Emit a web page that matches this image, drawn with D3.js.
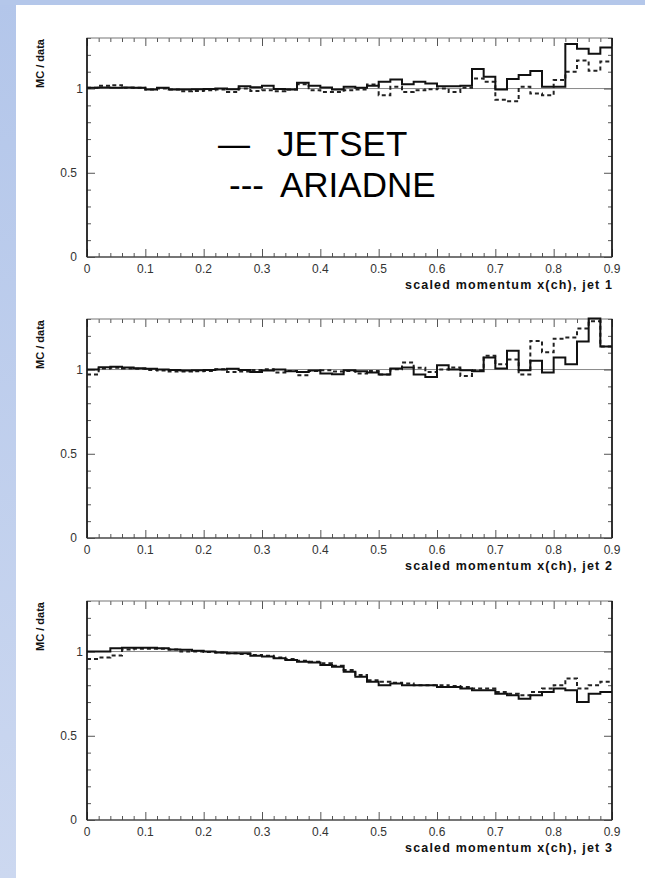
<!DOCTYPE html>
<html><head><meta charset="utf-8">
<script src="https://cdn.jsdelivr.net/npm/d3@7"></script>
<style>html,body{margin:0;padding:0;background:#fff;}svg{display:block;}</style>
</head><body>
<script>
// ---- data ----
const binEdges = d3.range(0, 45).map(i => +(i * 0.02).toFixed(2)); // left edges, 45 bins of 0.02
const xMax = 0.9;
const xMajorTicks = [0, 0.1, 0.2, 0.3, 0.4, 0.5, 0.6, 0.7, 0.8, 0.9];
const xTickLabels = ["0", "0.1", "0.2", "0.3", "0.4", "0.5", "0.6", "0.7", "0.8", "0.9"];
const yMajorTicks = [0, 0.5, 1];
const yTickLabels = ["0", "0.5", "1"];
const panelTitles = ["scaled momentum x(ch), jet 1", "scaled momentum x(ch), jet 2", "scaled momentum x(ch), jet 3"];
const yTitle = "MC / data";
const legendMarks = ["\u2014", "---"];
const legendLabels = ["JETSET", "ARIADNE"];

const jet1Jetset = [1.004,1.006,1.004,1.006,1.004,0.994,1.004,0.994,0.994,0.996,0.998,1.0,0.996,1.014,1.008,1.016,0.998,0.994,1.034,1.016,1.006,0.994,1.01,
  1.004,1.016,1.04,1.054,1.026,1.04,1.03,1.014,1.014,1.016,1.116,1.07,0.994,1.056,1.08,1.104,1.01,1.01,1.265,1.236,1.206,1.244];
const jet1Ariadne = [1.004,1.016,1.02,1.004,1.004,0.994,1.0,0.994,0.984,0.986,0.99,0.994,0.98,1.0,0.986,0.99,0.984,0.994,1.026,0.99,0.98,0.98,0.99,
  0.994,1.024,0.96,1.01,0.98,0.99,0.996,1.0,0.98,1.004,1.06,1.04,0.934,0.924,1.01,0.97,0.96,1.05,1.1,1.166,1.106,1.16];
const jet2Jetset = [1.0,1.014,1.016,1.012,1.008,1.004,1.0,0.998,0.994,0.996,0.998,1.0,1.004,0.998,0.986,0.994,1.0,0.99,0.986,0.994,0.976,0.972,0.996,
  0.99,0.982,0.97,1.006,1.012,0.97,0.956,1.026,1.0,0.996,0.99,1.072,1.006,1.112,0.996,1.052,0.982,1.072,1.032,1.167,1.303,1.137];
const jet2Ariadne = [0.97,1.006,1.01,1.006,1.004,0.998,0.994,0.988,0.988,0.99,0.992,1.002,0.986,0.988,0.998,1.002,0.982,0.992,0.966,0.992,0.996,0.988,0.992,
  0.976,0.992,0.97,1.002,1.042,1.01,0.986,1.0,1.012,0.962,0.996,1.082,1.032,1.06,0.97,1.17,1.102,1.183,1.19,1.243,1.287,1.137];
const jet3Jetset = [1.0,1.0,1.02,1.022,1.022,1.022,1.02,1.012,1.01,1.005,1.0,0.995,0.99,0.99,0.975,0.97,0.96,0.95,0.94,0.935,0.92,0.91,0.88,
  0.85,0.82,0.8,0.81,0.8,0.8,0.8,0.79,0.79,0.78,0.77,0.77,0.75,0.74,0.72,0.74,0.76,0.78,0.77,0.7,0.75,0.76];
const jet3Ariadne = [0.956,0.965,0.976,1.012,1.016,1.016,1.016,1.012,1.0,1.0,0.998,0.995,0.99,0.985,0.98,0.975,0.965,0.955,0.945,0.94,0.93,0.915,0.89,
  0.86,0.83,0.82,0.815,0.81,0.8,0.8,0.8,0.795,0.79,0.78,0.78,0.76,0.75,0.74,0.76,0.78,0.8,0.84,0.78,0.8,0.82];
const panelSeries = [[jet1Jetset, jet1Ariadne],[jet2Jetset, jet2Ariadne],[jet3Jetset, jet3Ariadne]];

// ---- layout ----
const W = 645, H = 878;
const plotLeft = 87, plotRight = 612, plotH = 219;
const panelTops = [38, 319, 601];
const font = "'Liberation Sans', Arial, Helvetica, sans-serif";

const svg = d3.select("body").append("svg").attr("width", W).attr("height", H);
const defs = svg.append("defs");
const grad = defs.append("linearGradient").attr("id","bg").attr("x1",0).attr("y1",0).attr("x2",0).attr("y2",1);
grad.append("stop").attr("offset","0%").attr("stop-color","#b3c6ea");
grad.append("stop").attr("offset","100%").attr("stop-color","#ccd8f0");
svg.append("rect").attr("width",W).attr("height",H).attr("fill","#fff");
svg.append("rect").attr("x",0).attr("y",0).attr("width",16).attr("height",H).attr("fill","url(#bg)");
svg.append("rect").attr("x",0).attr("y",0).attr("width",W).attr("height",5).attr("fill","#b4c7ea");

const x = d3.scaleLinear().domain([0, xMax]).range([plotLeft, plotRight]);
const xMinor = d3.range(0, 46).map(i => +(i*0.02).toFixed(2)).filter(v => Math.abs(v*10 - Math.round(v*10)) > 1e-6);
const yMinor = d3.range(0, 14).map(i => +(i*0.1).toFixed(2)).filter(v => yMajorTicks.indexOf(v) < 0);

panelTops.forEach((top, p) => {
  const y = d3.scaleLinear().domain([0, 1.3]).range([top + plotH, top]);
  const g = svg.append("g");

  g.append("line").attr("x1", x(0)).attr("x2", x(xMax)).attr("y1", y(1)).attr("y2", y(1))
    .attr("stroke", "#8a8a8a").attr("stroke-width", 1);

  const mk = (axis, tx, ty) => {
    const a = g.append("g").attr("transform", `translate(${tx},${ty})`).call(axis);
    a.select(".domain").remove();
    a.selectAll("line").attr("stroke", "#555");
    a.selectAll("text").remove();
  };
  mk(d3.axisBottom(x).tickValues(xMajorTicks).tickSize(-8), 0, top + plotH);
  mk(d3.axisBottom(x).tickValues(xMinor).tickSize(-4), 0, top + plotH);
  mk(d3.axisTop(x).tickValues(xMajorTicks).tickSize(-8), 0, top);
  mk(d3.axisTop(x).tickValues(xMinor).tickSize(-4), 0, top);
  mk(d3.axisLeft(y).tickValues(yMajorTicks).tickSize(-8), plotLeft, 0);
  mk(d3.axisLeft(y).tickValues(yMinor).tickSize(-4), plotLeft, 0);
  mk(d3.axisRight(y).tickValues(yMajorTicks).tickSize(-8), plotRight, 0);
  mk(d3.axisRight(y).tickValues(yMinor).tickSize(-4), plotRight, 0);

  g.append("rect").attr("x", plotLeft).attr("y", top).attr("width", plotRight - plotLeft).attr("height", plotH)
    .attr("fill", "none").attr("stroke", "#777").attr("stroke-width", 1);
  g.append("line").attr("x1", plotLeft).attr("x2", plotLeft).attr("y1", top).attr("y2", top + plotH)
    .attr("stroke", "#111").attr("stroke-width", 1.6);
  g.append("line").attr("x1", plotRight).attr("x2", plotRight).attr("y1", top).attr("y2", top + plotH)
    .attr("stroke", "#111").attr("stroke-width", 1.6);
  g.append("line").attr("x1", plotLeft).attr("x2", plotRight).attr("y1", top + plotH).attr("y2", top + plotH)
    .attr("stroke", "#333").attr("stroke-width", 1.2);

  const [solid, dashed] = panelSeries[p];
  const stepLine = d3.line().x(d => x(d[0])).y(d => y(d[1])).curve(d3.curveStepAfter);
  const pts = vals => binEdges.map((e, i) => [e, vals[i]]).concat([[xMax, vals[vals.length - 1]]]);
  g.append("path").attr("d", stepLine(pts(dashed))).attr("fill", "none")
    .attr("stroke", "#222").attr("stroke-width", 2).attr("stroke-dasharray", "4,3");
  g.append("path").attr("d", stepLine(pts(solid))).attr("fill", "none")
    .attr("stroke", "#111").attr("stroke-width", 2);

  g.selectAll(".xl").data(xMajorTicks).enter().append("text")
    .attr("x", d => x(d)).attr("y", top + plotH + 16).attr("text-anchor", "middle")
    .attr("font-family", font).attr("font-size", 12).attr("fill", "#333")
    .text((d, i) => xTickLabels[i]);
  g.selectAll(".yl").data(yMajorTicks).enter().append("text")
    .attr("x", d => d === 1 ? 83 : 77).attr("y", d => y(d) + 4).attr("text-anchor", "end")
    .attr("font-family", font).attr("font-size", 12).attr("fill", "#333")
    .text((d, i) => yTickLabels[i]);
  g.append("text").attr("x", plotRight - 207).attr("y", top + plotH + 32)
    .attr("textLength", 207).attr("lengthAdjust", "spacing")
    .attr("font-family", font).attr("font-size", 12.5).attr("font-weight", "bold").attr("fill", "#111")
    .text(panelTitles[p]);
  g.append("text").attr("transform", `translate(44,${top + 1}) rotate(-90)`).attr("text-anchor", "end")
    .attr("font-family", font).attr("font-size", 11).attr("font-weight", "bold").attr("fill", "#111")
    .text(yTitle);
});

// legend
const lg = svg.append("g").attr("font-family", font).attr("fill", "#000").attr("font-size", 35);
lg.append("text").attr("x", 218).attr("y", 156).attr("textLength", 32)
  .attr("lengthAdjust", "spacingAndGlyphs").text(legendMarks[0]);
lg.append("text").attr("x", 277).attr("y", 156).text(legendLabels[0]);
lg.append("text").attr("x", 229).attr("y", 197).text(legendMarks[1]);
lg.append("text").attr("x", 280).attr("y", 197).text(legendLabels[1]);
</script>
</body></html>
